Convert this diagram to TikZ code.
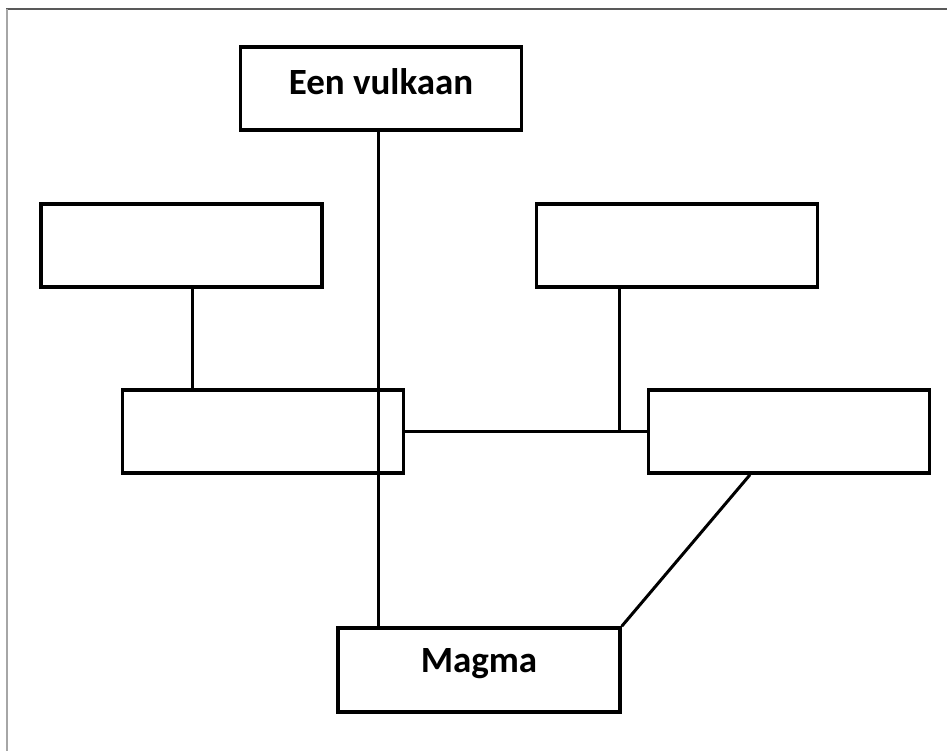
\documentclass[tikz,border=0pt]{standalone}
\usepackage{fontspec}
\setmainfont{Carlito}
\begin{document}
\begin{tikzpicture}[x=1pt,y=-1pt,
  box/.style={draw=black,line width=3.5pt,rectangle,minimum width=281pt,minimum height=83pt,inner sep=0pt,font=\fontsize{37}{40}\selectfont\bfseries},
  link/.style={draw=black,line width=3pt}]
\useasboundingbox (0,0) rectangle (947,751);
\fill[white] (0,0) rectangle (947,751);
\draw[line width=2pt,draw=black!65] (6,9) -- (947,9);
\draw[line width=2pt,draw=black!35] (6.5,9) -- (6.5,751);
\node[box,text height=24pt,text depth=12pt] (vulkaan) at (381,88.5) {Een vulkaan};
\node[box] (lu) at (181.5,245.5) {};
\node[box] (ru) at (677,245.5) {};
\node[box] (ml) at (263,431.5) {};
\node[box] (mr) at (789,431.5) {};
\node[box,minimum width=282pt,minimum height=84pt,text height=24pt,text depth=19pt] (magma) at (479,670) {Magma};
\draw[link] ([xshift=-3pt]vulkaan.south) -- ([xshift=-3pt]vulkaan.south |- magma.north);
\draw[link] ([xshift=10.5pt]lu.south) -- ([xshift=10.5pt]lu.south |- ml.north);
\draw[link] (ml.east) -- (mr.west);
\draw[link] ([xshift=-58pt]ru.south) -- ([xshift=-58pt]ru.south |- mr.west);
\draw[link] ([xshift=-39pt]mr.south) -- (magma.north east);
\end{tikzpicture}
\end{document}
